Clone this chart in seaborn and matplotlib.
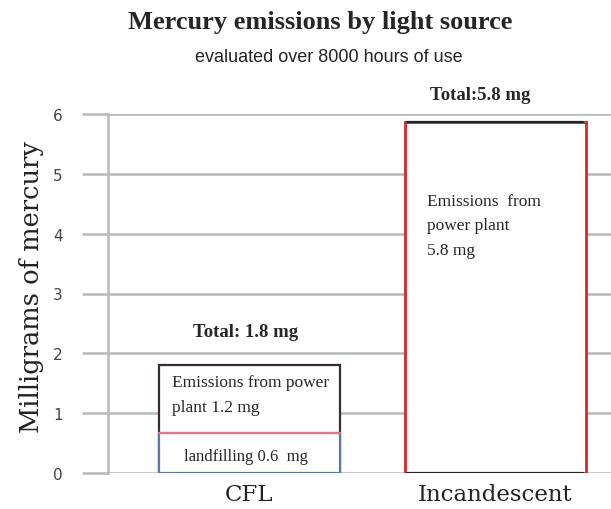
import matplotlib
matplotlib.use("Agg")
import matplotlib.pyplot as plt
import seaborn as sns

# Data
categories = ["CFL", "Incandescent"]
landfill = [0.67, 0.0]
power_plant = [1.13, 5.87]
totals = [a + b for a, b in zip(landfill, power_plant)]
yticks = [0, 1, 2, 3, 4, 5, 6]

sns.set_style("white")

fig = plt.figure(figsize=(6.11, 5.10), dpi=100)
ax = fig.add_axes([108 / 611, 1 - 474 / 510, 503 / 611, 359 / 510])

grid_col = "#b8b8b8"

# full stack (power plant part on top), then landfill drawn over its lower part
sns.barplot(x=categories, y=totals, color="white", width=0.736, ax=ax,
            linewidth=1.6, saturation=1, zorder=3)
n = len(categories)
ax.patches[0].set_edgecolor("#3d2a2a")
ax.patches[1].set_edgecolor("#d62828")
ax.patches[1].set_linewidth(2.0)

sns.barplot(x=categories, y=landfill, color="white", width=0.736, ax=ax,
            linewidth=1.6, saturation=1, zorder=4)
ax.patches[n].set_edgecolor("#5b78a8")
ax.patches[n + 1].set_visible(False)

# boundary line between CFL segments, and dark lines on incandescent bar
p = ax.patches[n]
ax.plot([p.get_x(), p.get_x() + p.get_width()], [landfill[0], landfill[0]],
        color="#e07a8a", lw=1.6, zorder=5)
q = ax.patches[1]
for yy in (0, totals[1]):
    ax.plot([q.get_x() + 0.01, q.get_x() + q.get_width() - 0.01], [yy, yy],
            color="#222222", lw=1.6, zorder=5)

ax.set_xlim(-0.575, 1.47)
ax.set_ylim(0, 6)
ax.set_yticks(yticks)
ax.set_yticklabels([str(t) for t in yticks], fontsize=11, family="DejaVu Sans",
                   color="#444444")
ax.tick_params(axis="y", left=True, length=18.7, width=1.8, color=grid_col, pad=14)
ax.tick_params(axis="x", bottom=False, length=0, pad=7)
for lab in ax.get_xticklabels():
    lab.set_family("DejaVu Serif")
    lab.set_fontsize(16.5)
    lab.set_color("#222222")

ax.yaxis.grid(True, color=grid_col, lw=1.8, zorder=0)
ax.set_axisbelow(True)
for s in ["top", "right", "bottom"]:
    ax.spines[s].set_visible(False)
ax.spines["left"].set_color(grid_col)
ax.spines["left"].set_linewidth(1.8)

ax.set_ylabel("Milligrams of mercury", family="DejaVu Serif", fontsize=18.5,
              color="#222222")
ax.yaxis.set_label_coords(-0.127, 0.52)

# bar annotations
serif = "Liberation Serif"
tk = dict(family=serif, fontsize=12.5, va="center", ha="left", zorder=6)
ax.text(-0.315, 1.52, "Emissions from power", **tk)
ax.text(-0.315, 1.1, "plant 1.2 mg", **tk)
ax.text(-0.014, 0.28, "landfilling 0.6  mg", family=serif, fontsize=12,
        va="center", ha="center", zorder=6)
ax.text(0.72, 4.55, "Emissions  from", **tk)
ax.text(0.72, 4.15, "power plant", **tk)
ax.text(0.72, 3.72, "5.8 mg", **tk)
ax.text(-0.014, 2.36, "Total: 1.8 mg", family=serif, fontsize=13.5,
        fontweight="bold", va="center", ha="center", zorder=6)
ax.text(0.94, 6.33, "Total:5.8 mg", family=serif, fontsize=13.5,
        fontweight="bold", va="center", ha="center", clip_on=False, zorder=6)

fig.text(320 / 611, 1 - 22 / 510, "Mercury emissions by light source",
         family=serif, fontsize=19, fontweight="bold", ha="center", va="center")
fig.text(329 / 611, 1 - 58 / 510, "evaluated over 8000 hours of use",
         family="Liberation Sans", fontsize=13,
         ha="center", va="center", color="#222222")

fig.savefig("out.png", dpi=100)
